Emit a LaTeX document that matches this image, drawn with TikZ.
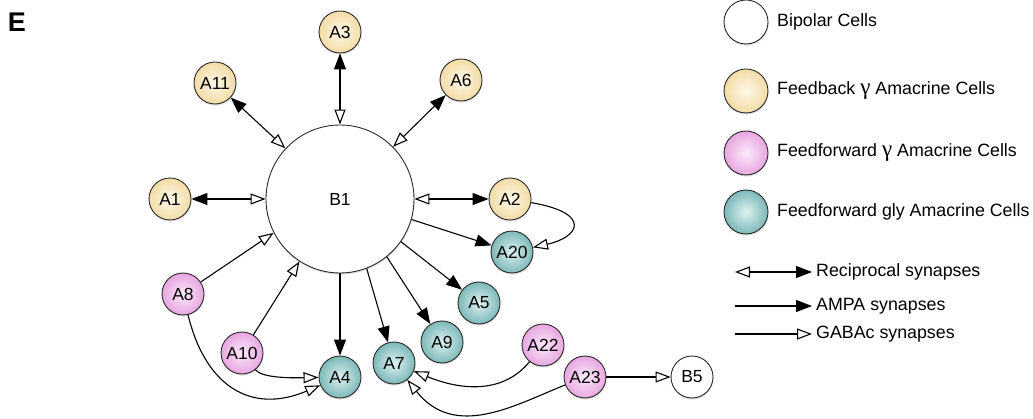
\documentclass[tikz,border=0pt]{standalone}
\usepackage{fontspec}
\setmainfont{Liberation Sans}
\newfontfamily\gfont{Liberation Serif}
\usetikzlibrary{arrows.meta,shadows}
\definecolor{fbin}{HTML}{FFF8E8}
\definecolor{fbout}{HTML}{F2DCA6}
\definecolor{ffin}{HTML}{FCEAFA}
\definecolor{ffout}{HTML}{E7A6E0}
\definecolor{glin}{HTML}{DDF1F1}
\definecolor{glout}{HTML}{7DB8B8}
\definecolor{edge}{HTML}{2A2A2A}
\tikzset{
  cell/.style={circle, draw=edge, line width=0.9pt, minimum size=42pt, inner sep=0pt,
    font=\fontsize{17.5}{17.5}\selectfont,
    drop shadow={shadow xshift=0.4pt, shadow yshift=-1.6pt, opacity=0.25}},
  bip/.style={cell, fill=white},
  fb/.style={cell, inner color=fbin, outer color=fbout},
  ff/.style={cell, inner color=ffin, outer color=ffout},
  gl/.style={cell, inner color=glin, outer color=glout},
  conn/.style={line width=1.1pt, draw=black},
  recip/.style={conn, {Triangle[open,length=15pt,width=11pt]}-{Triangle[length=16pt,width=12pt]}},
  ampa/.style={conn, -{Triangle[length=16pt,width=12pt]}},
  gaba/.style={conn, -{Triangle[open,length=15pt,width=11pt]}},
  legtext/.style={anchor=west, inner sep=0pt, font=\fontsize{17.8}{17.8}\selectfont},
}
\newcommand{\gam}{{\gfont\fontsize{23}{17.8}\selectfont γ}}
\begin{document}
\begin{tikzpicture}[x=1pt,y=1pt]
\useasboundingbox (0,0) rectangle (1033,-419);
\node[font=\bfseries\fontsize{27}{27}\selectfont, inner sep=0pt] (E) at (17,-22) {E};

% cells
\node[bip, minimum size=148pt] (B1) at (340,-199) {B1};
\node[fb] (A3) at (340,-32) {A3};
\node[fb] (A11) at (215,-83) {A11};
\node[fb] (A6) at (461,-80) {A6};
\node[fb] (A1) at (170,-199) {A1};
\node[fb] (A2) at (510,-199) {A2};
\node[gl] (A20) at (512,-252) {A20};
\node[gl] (A5) at (479,-303) {A5};
\node[gl] (A9) at (442,-342) {A9};
\node[gl] (A7) at (394,-363) {A7};
\node[gl] (A4) at (340,-377) {A4};
\node[ff] (A8) at (183,-294) {A8};
\node[ff] (A10) at (242,-353) {A10};
\node[ff] (A22) at (543,-345) {A22};
\node[ff] (A23) at (585,-377) {A23};
\node[bip] (B5) at (692,-377) {B5};

% reciprocal synapses
\draw[recip] (B1) -- (A3);
\draw[recip] (B1) -- (A11);
\draw[recip] (B1) -- (A6);
\draw[recip] (B1) -- (A1);
\draw[recip] (B1) -- (A2);

% AMPA synapses
\draw[ampa] (B1.344) -- (A20);
\draw[ampa] (B1.325) -- (A5);
\draw[ampa] (B1.309) -- (A9);
\draw[ampa] (B1.291) -- (A7);
\draw[ampa] (B1.270) -- (A4);

% GABAc synapses
\draw[gaba] (A8) -- (B1.207);
\draw[gaba] (A10) -- (B1.237);
\draw[gaba] (A2) .. controls (592,-213) and (580,-237) .. (A20);
\draw[gaba] (A10) .. controls (262,-378) and (290,-378) .. (A4);
\draw[gaba] (A8) .. controls (205,-385) and (250,-415) .. (A4);
\draw[gaba] (A22) .. controls (505,-392) and (465,-392) .. (A7);
\draw[gaba] (A23) .. controls (515,-405) and (455,-440) .. (A7);
\draw[gaba] (A23) -- (B5);

% legend
\node[bip, minimum size=44pt] (LB) at (746,-22) {};
\node[fb, minimum size=44pt] (LF) at (746,-91) {};
\node[ff, minimum size=44pt] (LFF) at (746,-153) {};
\node[gl, minimum size=44pt] (LG) at (746,-212) {};
\node[legtext] (TB) at (777,-22) {Bipolar Cells};
\node[legtext] (TF) at (777,-91) {Feedback \gam\ Amacrine Cells};
\node[legtext] (TFF) at (777,-153) {Feedforward \gam\ Amacrine Cells};
\node[legtext] (TG) at (777,-212) {Feedforward gly Amacrine Cells};

\coordinate (r0) at (735,-272);
\coordinate (r1) at (812,-272);
\coordinate (m0) at (735,-306);
\coordinate (m1) at (812,-306);
\coordinate (g0) at (735,-334);
\coordinate (g1) at (812,-334);
\draw[recip] (r0) -- (r1);
\draw[ampa] (m0) -- (m1);
\draw[gaba] (g0) -- (g1);
\node[legtext] (TR) at (816,-272) {Reciprocal synapses};
\node[legtext] (TM) at (816,-306) {AMPA synapses};
\node[legtext] (TGA) at (816,-334) {GABAc synapses};
\end{tikzpicture}
\end{document}
